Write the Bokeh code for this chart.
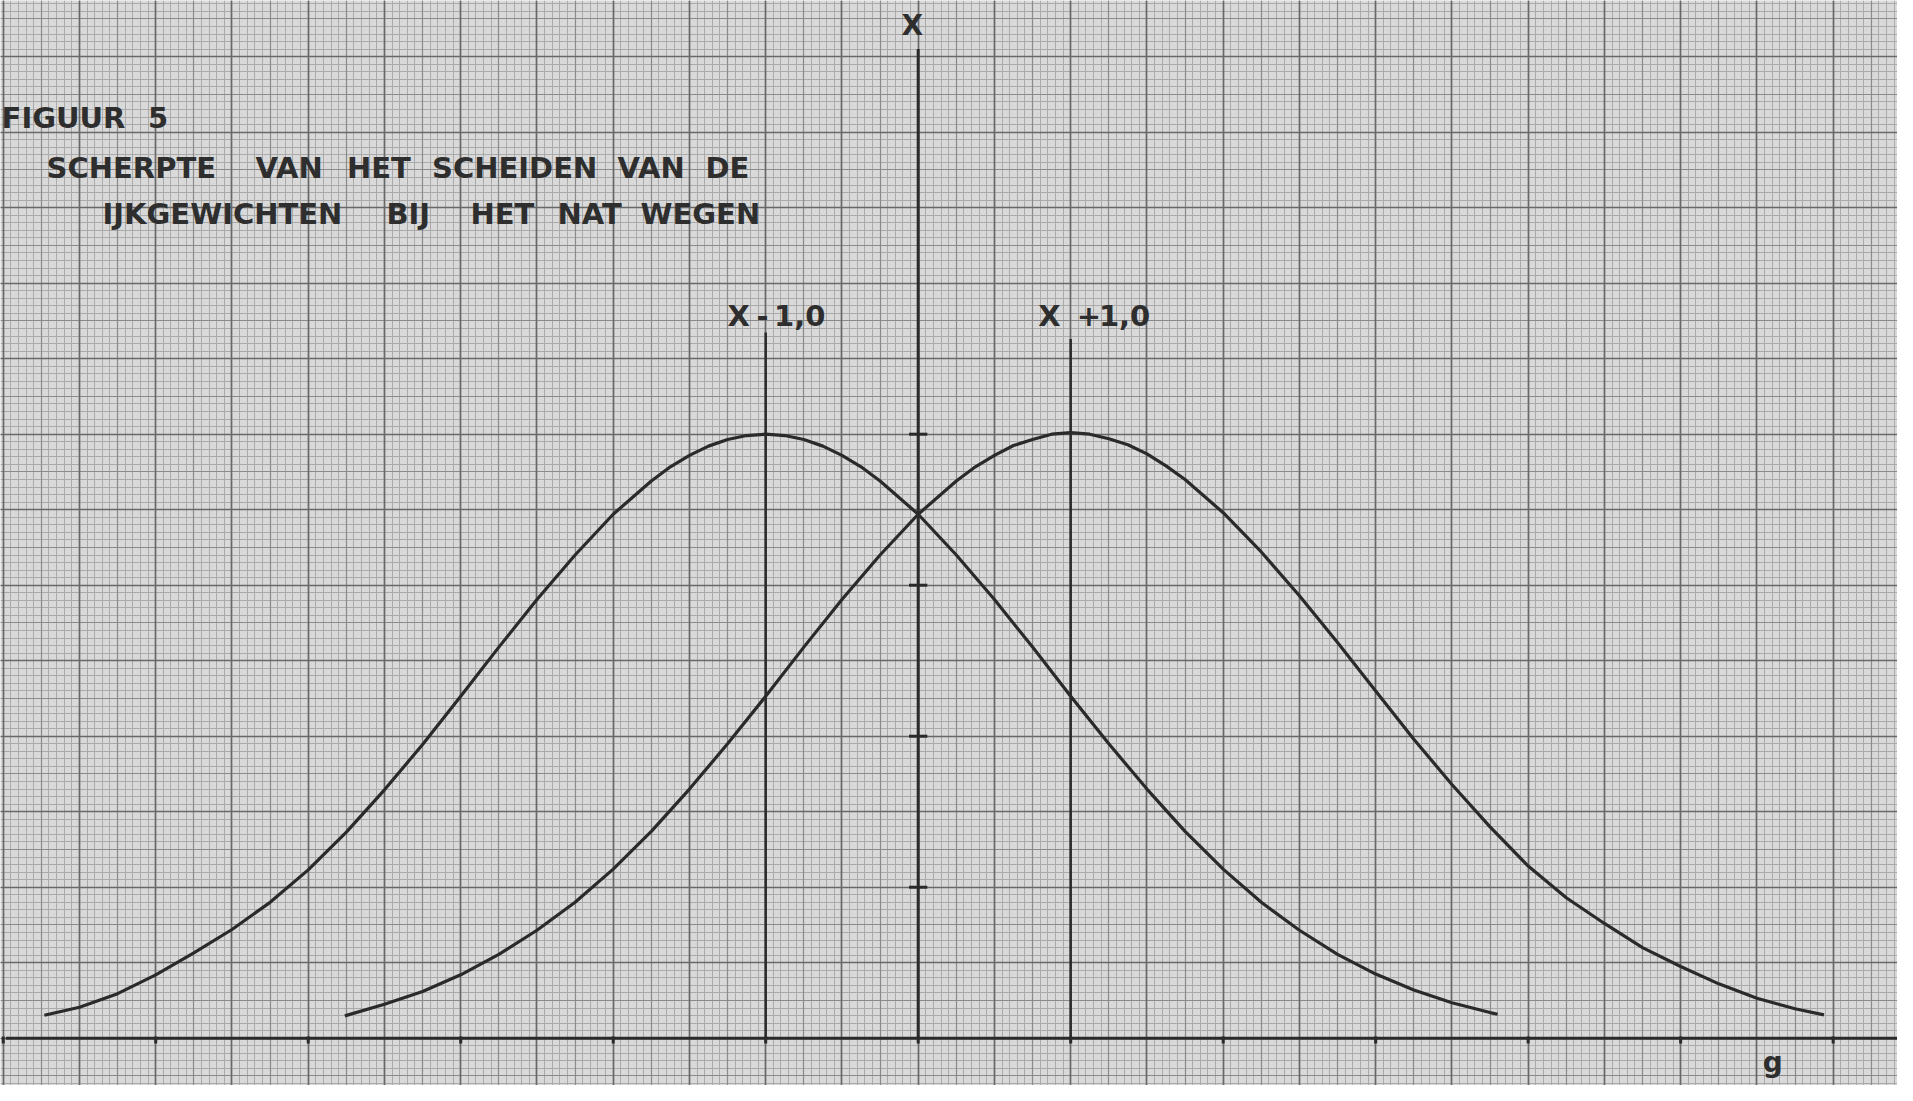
from bokeh.plotting import figure
from bokeh.models import Range1d, Grid, SingleIntervalTicker, ColumnDataSource
from bokeh.core.properties import value
from bokeh.embed import file_html
from bokeh.resources import INLINE

# ---- data (x in g relative to X, y in chart units) ----
left_x = [-5.73, -5.5, -5.25, -5.0, -4.75, -4.5, -4.25, -4.0, -3.75, -3.5,
          -3.25, -3.0, -2.75, -2.5, -2.25, -2.0, -1.75, -1.625, -1.5, -1.375,
          -1.25, -1.125, -1.0, -0.875, -0.75, -0.625, -0.5, -0.375, -0.25, 0.0,
          0.25, 0.5, 0.75, 1.0, 1.25, 1.5, 1.75, 2.0, 2.25, 2.5,
          2.75, 3.0, 3.25, 3.5, 3.75, 3.8]
left_y = [0.152, 0.205, 0.295, 0.42, 0.565, 0.72, 0.90, 1.115, 1.365, 1.645,
          1.945, 2.265, 2.59, 2.905, 3.20, 3.47, 3.69, 3.784, 3.86, 3.921,
          3.965, 3.991, 4.00, 3.991, 3.965, 3.921, 3.86, 3.784, 3.69, 3.47,
          3.20, 2.905, 2.59, 2.265, 1.95, 1.65, 1.37, 1.12, 0.90, 0.715,
          0.555, 0.425, 0.32, 0.235, 0.17, 0.159]

right_x = [-3.76, -3.5, -3.25, -3.0, -2.75, -2.5, -2.25, -2.0, -1.75, -1.5,
           -1.25, -1.0, -0.75, -0.5, -0.25, 0.0, 0.25, 0.375, 0.5, 0.625,
           0.75, 0.875, 1.0, 1.125, 1.25, 1.375, 1.5, 1.625, 1.75, 2.0,
           2.25, 2.5, 2.75, 3.0, 3.25, 3.5, 3.75, 4.0, 4.25, 4.5,
           4.75, 5.0, 5.25, 5.5, 5.75, 5.94]
right_y = [0.148, 0.225, 0.31, 0.42, 0.555, 0.715, 0.90, 1.12, 1.37, 1.65,
           1.95, 2.265, 2.59, 2.905, 3.20, 3.47, 3.69, 3.784, 3.86, 3.925,
           3.965, 4.00, 4.01, 4.00, 3.97, 3.93, 3.87, 3.79, 3.70, 3.48,
           3.22, 2.93, 2.62, 2.30, 1.98, 1.68, 1.40, 1.14, 0.93, 0.76,
           0.60, 0.475, 0.36, 0.265, 0.195, 0.155]

# vertical reference lines (X-1,0 ; X ; X+1,0) and their tops
vline_x = [-1.0, 0.0, 1.0]
vline_top = [4.674, 6.55, 4.63]

# ticks
x_ticks = [-6, -5, -4, -3, -2, -1, 0, 1, 2, 3, 4, 5, 6]
y_ticks = [1, 2, 3, 4]

# title words
title_words = ["FIGUUR", "5",
               "SCHERPTE", "VAN", "HET", "SCHEIDEN", "VAN", "DE",
               "IJKGEWICHTEN", "BIJ", "HET", "NAT", "WEGEN"]
title_x = [-6.011, -5.050,
           -5.716, -4.346, -3.746, -3.188, -1.972, -1.395,
           -5.349, -3.487, -2.936, -2.365, -1.821]
title_y = [6.097, 6.097,
           5.766, 5.766, 5.766, 5.766, 5.766, 5.766,
           5.455, 5.455, 5.455, 5.455, 5.455]

label_text = ["X", "-", "1,0", "X", "+", "1,0"]
label_x = [-1.250, -1.060, -0.945, 0.787, 1.040, 1.185]
label_y = [4.786] * 6

# ---- colours ----
PAPER = "#d9d9d9"
INK = "#2a2a2a"
TXT = "#2e2e2e"

p = figure(width=1897, height=1085,
           x_range=Range1d(-6.018, 6.422), y_range=Range1d(-0.313, 6.872),
           x_axis_type=None, y_axis_type=None,
           output_backend="svg", toolbar_location=None, min_border=0)
p.background_fill_color = PAPER
p.border_fill_color = PAPER
p.outline_line_color = None

# graph paper grid: 1 mm, 5 mm, 10 mm
for interval, color, width in [(0.05, "#aaaaaa", 1.0), (0.25, "#8a8a8a", 1.2), (0.5, "#686868", 1.6)]:
    for dim in (0, 1):
        g = Grid(dimension=dim, ticker=SingleIntervalTicker(interval=interval),
                 grid_line_color=color, grid_line_width=width)
        p.add_layout(g)

# baseline
p.segment(x0=[-5.983], y0=[0], x1=[6.422], y1=[0], line_color=INK, line_width=3)
# baseline ticks
p.segment(x0=x_ticks, y0=[-0.035] * len(x_ticks), x1=x_ticks, y1=[0.012] * len(x_ticks),
          line_color=INK, line_width=3)
# vertical lines
p.segment(x0=vline_x, y0=[0] * 3, x1=vline_x, y1=vline_top, line_color=INK,
          line_width=[2.5, 3, 2.5])
# vertical axis ticks
p.segment(x0=[-0.06] * len(y_ticks), y0=y_ticks, x1=[0.06] * len(y_ticks), y1=y_ticks,
          line_color=INK, line_width=3)

# curves
p.line(left_x, left_y, line_color=INK, line_width=3.2, line_join="round")
p.line(right_x, right_y, line_color=INK, line_width=3.2, line_join="round")

FONT = value("DejaVu Sans")
tsrc = ColumnDataSource(dict(x=title_x, y=title_y, t=title_words))
p.text(x="x", y="y", text="t", source=tsrc, text_font=FONT, text_font_size="29px",
       text_font_style="bold", text_color=TXT, text_align="left",
       text_baseline="alphabetic")

lsrc = ColumnDataSource(dict(x=label_x, y=label_y, t=label_text))
p.text(x="x", y="y", text="t", source=lsrc, text_font=FONT, text_font_size="29px",
       text_font_style="bold", text_color=TXT, text_align="left",
       text_baseline="alphabetic")

p.text(x=[-0.038], y=[6.707], text=["X"], text_font=FONT, text_font_size="28px",
       text_font_style="bold", text_color=TXT, text_align="center",
       text_baseline="alphabetic")
p.text(x=[5.538], y=[-0.16], text=["g"], text_font=FONT, text_font_size="28px",
       text_font_style="bold", text_color=TXT, text_align="left",
       text_baseline="alphabetic")

open("out.html", "w").write(file_html(p, INLINE))
